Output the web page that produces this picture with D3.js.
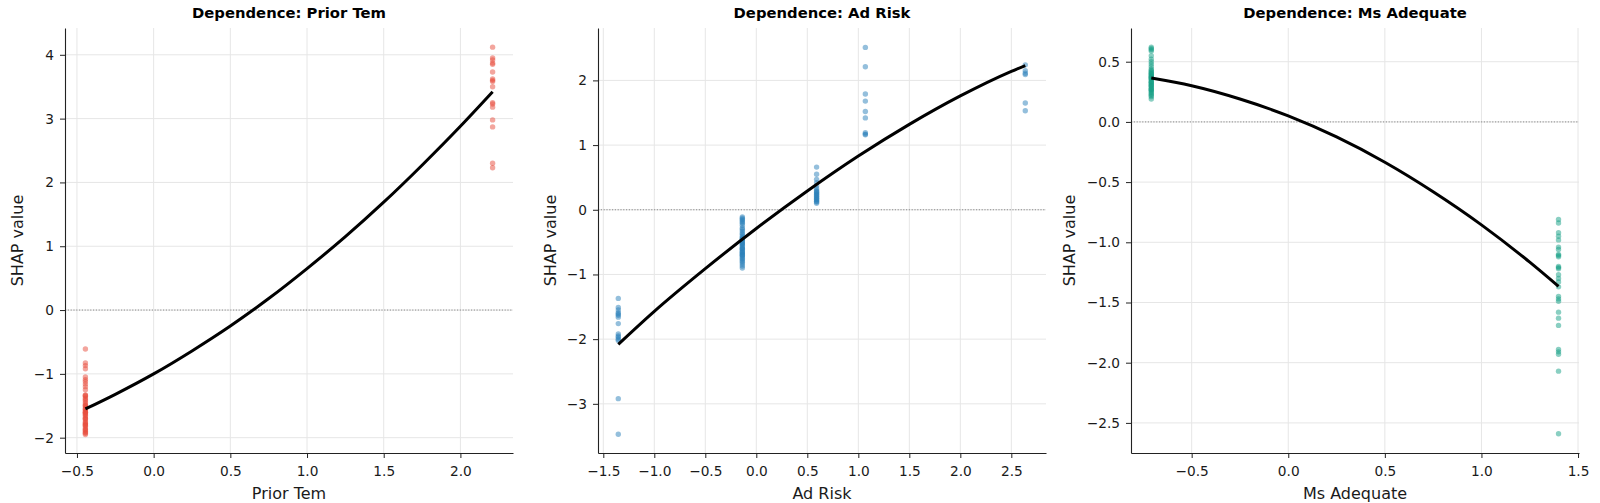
<!DOCTYPE html>
<html>
<head>
<meta charset="utf-8">
<script src="https://cdn.jsdelivr.net/npm/d3@7"></script>
<style>
  body { margin: 0; background: #fff; }
  text { font-family: "DejaVu Sans", sans-serif; }
</style>
</head>
<body>
<div class="figure"></div>
<script>
// ---------------------------------------------------------------
// SHAP dependence plots for three features, drawn side by side
// ---------------------------------------------------------------

// Feature names (titles + x labels)
var featureNames = ["Prior Tem", "Ad Risk", "Ms Adequate"];

// Prior Tem: feature values of the two clusters and their SHAP values
var priorTemX = [-0.445, 2.21];
var priorTemShap = [
  [-0.61, -0.83, -0.87, -0.92, -1.05, -1.09, -1.12, -1.16, -1.20, -1.25, -1.33, -1.34,
   -1.35, -1.38, -1.40, -1.42, -1.45, -1.48, -1.50, -1.50, -1.53, -1.55, -1.56, -1.58,
   -1.60, -1.60, -1.62, -1.63, -1.65, -1.67, -1.70, -1.70, -1.72, -1.75, -1.77, -1.78,
   -1.80, -1.80, -1.82, -1.85, -1.87, -1.88, -1.90, -1.92, -1.93, -1.95],
  [4.12, 3.95, 3.92, 3.87, 3.85, 3.73, 3.62, 3.60, 3.58, 3.50, 3.25, 3.23, 3.18,
   2.98, 2.87, 2.30, 2.23]
];
var priorTemFitX = [-0.445, -0.25, 0.0, 0.25, 0.5, 0.75, 1.0, 1.25, 1.5, 1.75, 2.0, 2.21];
var priorTemFitY = [-1.55, -1.32, -1.00, -0.64, -0.25, 0.18, 0.65, 1.15, 1.69, 2.27, 2.88, 3.42];

// Ad Risk
var adRiskX = [-1.353, -0.137, 0.591, 1.069, 2.637];
var adRiskShap = [
  [-1.37, -1.51, -1.55, -1.59, -1.61, -1.63, -1.66, -1.76, -1.92, -1.95, -1.97, -2.00,
   -2.02, -2.92, -3.47],
  [-0.11, -0.13, -0.15, -0.17, -0.19, -0.21, -0.24, -0.28, -0.30, -0.33, -0.36, -0.38,
   -0.41, -0.43, -0.45, -0.45, -0.47, -0.49, -0.51, -0.52, -0.53, -0.55, -0.57, -0.59,
   -0.60, -0.61, -0.63, -0.65, -0.66, -0.67, -0.69, -0.70, -0.71, -0.73, -0.75, -0.77,
   -0.79, -0.81, -0.84, -0.87, -0.90],
  [0.66, 0.55, 0.47, 0.42, 0.37, 0.33, 0.30, 0.28, 0.27, 0.25, 0.24, 0.22, 0.21, 0.19,
   0.18, 0.16, 0.15, 0.13, 0.12, 0.10],
  [2.51, 2.21, 1.79, 1.68, 1.52, 1.42, 1.19, 1.17, 1.16],
  [2.24, 2.15, 2.11, 2.09, 1.65, 1.53]
];
var adRiskFitX = [-1.353, -1.0, -0.5, 0.0, 0.5, 1.0, 1.5, 2.0, 2.5, 2.637];
var adRiskFitY = [-2.08, -1.57, -0.91, -0.29, 0.29, 0.83, 1.32, 1.76, 2.14, 2.23];

// Ms Adequate
var msAdequateX = [-0.709, 1.399];
var msAdequateShap = [
  [0.62, 0.61, 0.60, 0.59, 0.55, 0.52, 0.50, 0.48, 0.46, 0.44, 0.43, 0.42, 0.41, 0.40,
   0.40, 0.39, 0.38, 0.38, 0.37, 0.36, 0.36, 0.35, 0.34, 0.33, 0.33, 0.32, 0.31, 0.30,
   0.30, 0.29, 0.28, 0.27, 0.27, 0.26, 0.25, 0.24, 0.23, 0.22, 0.21, 0.19],
  [-0.81, -0.84, -0.92, -0.95, -0.98, -1.04, -1.06, -1.10, -1.11, -1.12, -1.20, -1.21,
   -1.22, -1.27, -1.30, -1.33, -1.37, -1.45, -1.47, -1.49, -1.58, -1.63, -1.69, -1.89,
   -1.91, -1.93, -2.07, -2.59]
];
var msAdequateFitX = [-0.709, -0.5, -0.25, 0.0, 0.25, 0.5, 0.75, 1.0, 1.25, 1.399];
var msAdequateFitY = [0.364, 0.30, 0.19, 0.05, -0.125, -0.335, -0.58, -0.855, -1.165, -1.366];

// Axis ranges and tick values
var xDomains = [[-0.578, 2.343], [-1.552, 2.840], [-0.814, 1.505]];
var yDomains = [[-2.24, 4.42], [-3.76, 2.81], [-2.75, 0.78]];
var xTickValues = [
  [-0.5, 0.0, 0.5, 1.0, 1.5, 2.0],
  [-1.5, -1.0, -0.5, 0.0, 0.5, 1.0, 1.5, 2.0, 2.5],
  [-0.5, 0.0, 0.5, 1.0, 1.5]
];
var yTickValues = [
  [-2, -1, 0, 1, 2, 3, 4],
  [-3, -2, -1, 0, 1, 2],
  [-2.5, -2.0, -1.5, -1.0, -0.5, 0.0, 0.5]
];
var yTickFormats = ["d", "d", ".1f"];
var pointColors = ["#e74c3c", "#2980b9", "#16a085"];

// Layout
var svgWidth = 1600;
var svgHeight = 503;
var panelLeft = [65, 598, 1131];
var ylabelOffset = [42, 42, 56];
var plotTop = 28;
var plotWidth = 448;
var plotHeight = 425;

var svg = d3.select(".figure")
  .append("svg")
  .attr("width", svgWidth)
  .attr("height", svgHeight)
  .style("display", "block");

// Put the per-feature arrays into a list the loop can walk over
var panels = [
  { x: priorTemX, shap: priorTemShap, fitX: priorTemFitX, fitY: priorTemFitY },
  { x: adRiskX, shap: adRiskShap, fitX: adRiskFitX, fitY: adRiskFitY },
  { x: msAdequateX, shap: msAdequateShap, fitX: msAdequateFitX, fitY: msAdequateFitY }
];

panels.forEach(function(p, i) {
  var g = svg.append("g")
    .attr("transform", `translate(${panelLeft[i]}, ${plotTop})`);

  var xScale = d3.scaleLinear().domain(xDomains[i]).range([0, plotWidth]);
  var yScale = d3.scaleLinear().domain(yDomains[i]).range([plotHeight, 0]);

  // grid lines
  g.append("g").selectAll("line")
    .data(xTickValues[i])
    .join("line")
    .attr("x1", d => xScale(d)).attr("x2", d => xScale(d))
    .attr("y1", 0).attr("y2", plotHeight)
    .attr("stroke", "#e6e6e6").attr("stroke-width", 1);

  g.append("g").selectAll("line")
    .data(yTickValues[i])
    .join("line")
    .attr("x1", 0).attr("x2", plotWidth)
    .attr("y1", d => yScale(d)).attr("y2", d => yScale(d))
    .attr("stroke", "#e6e6e6").attr("stroke-width", 1);

  // dotted zero line
  g.append("line")
    .attr("x1", 0).attr("x2", plotWidth)
    .attr("y1", yScale(0)).attr("y2", yScale(0))
    .attr("stroke", "#8a8a8a")
    .attr("stroke-width", 1)
    .attr("stroke-dasharray", "1.2,1.6");

  // scatter points
  var points = [];
  p.x.forEach(function(xv, k) {
    p.shap[k].forEach(function(yv) { points.push({ x: xv, y: yv }); });
  });

  g.append("g").selectAll("circle")
    .data(points)
    .join("circle")
    .attr("cx", d => xScale(d.x))
    .attr("cy", d => yScale(d.y))
    .attr("r", 2.7)
    .attr("fill", pointColors[i])
    .attr("fill-opacity", 0.5);

  // fitted trend line
  var drawLine = d3.line()
    .x(d => xScale(d[0]))
    .y(d => yScale(d[1]))
    .curve(d3.curveMonotoneX);

  g.append("path")
    .attr("d", drawLine(d3.zip(p.fitX, p.fitY)))
    .attr("fill", "none")
    .attr("stroke", "#000")
    .attr("stroke-width", 3);

  // axes
  var bottomAxis = d3.axisBottom(xScale)
    .tickValues(xTickValues[i])
    .tickFormat(d3.format(".1f"))
    .tickSize(5).tickSizeOuter(0).tickPadding(8.5);

  var leftAxis = d3.axisLeft(yScale)
    .tickValues(yTickValues[i])
    .tickFormat(d3.format(yTickFormats[i]))
    .tickSize(5).tickSizeOuter(0).tickPadding(6);

  var axes = [
    g.append("g").attr("transform", `translate(0, ${plotHeight})`).call(bottomAxis),
    g.append("g").call(leftAxis)
  ];
  axes.forEach(function(a) {
    a.attr("color", "#222");
    a.select(".domain").attr("stroke-width", 1.1);
    a.selectAll("text")
      .attr("font-family", "DejaVu Sans")
      .attr("font-size", 13.7)
      .attr("fill", "#1a1a1a");
  });

  // title and axis labels
  g.append("text")
    .attr("x", plotWidth / 2).attr("y", 18 - plotTop)
    .attr("text-anchor", "middle")
    .attr("font-size", 14.8).attr("font-weight", "bold")
    .attr("fill", "#000")
    .text("Dependence: " + featureNames[i]);

  g.append("text")
    .attr("x", plotWidth / 2).attr("y", 498.5 - plotTop)
    .attr("text-anchor", "middle")
    .attr("font-size", 16).attr("fill", "#1a1a1a")
    .text(featureNames[i]);

  g.append("text")
    .attr("transform", `translate(${-ylabelOffset[i]}, ${plotHeight / 2}) rotate(-90)`)
    .attr("text-anchor", "middle")
    .attr("font-size", 16).attr("fill", "#1a1a1a")
    .text("SHAP value");
});
</script>
</body>
</html>
